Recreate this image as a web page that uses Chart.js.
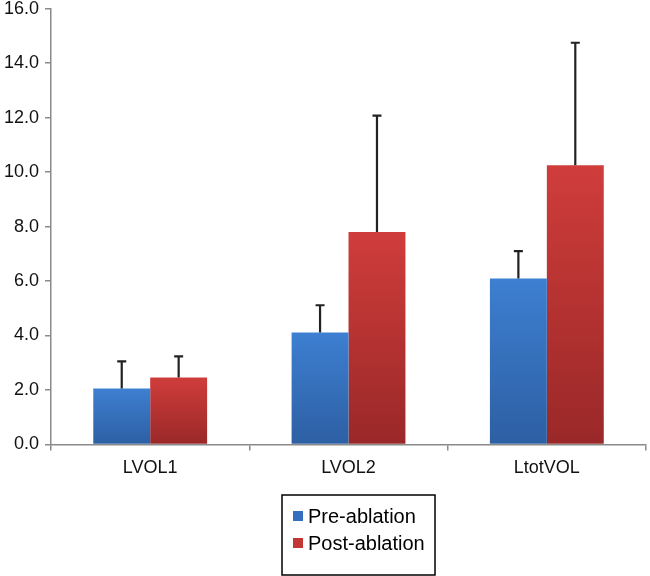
<!DOCTYPE html>
<html>
<head>
<meta charset="utf-8">
<title>Pre vs post ablation volumes</title>
<script src="https://cdn.jsdelivr.net/npm/chart.js@4/dist/chart.umd.min.js"></script>
<style>
  html, body { margin: 0; padding: 0; background: #fff; }
  #wrap { width: 650px; height: 576px; }
</style>
</head>
<body>
<div id="wrap"><canvas id="volChart" width="650" height="576"></canvas></div>
<script>
// values
const categories = ['LVOL1', 'LVOL2', 'LtotVOL'];
const preAblation = [2.05, 4.11, 6.09];
const preAblationSD = [1.0, 1.0, 1.01];
const postAblation = [2.46, 7.80, 10.25];
const postAblationSD = [0.77, 4.27, 4.5];

Chart.defaults.font.family = "'Liberation Sans', Arial, Helvetica, sans-serif";
Chart.defaults.color = '#111';

// vertical shade on each bar, lighter at the top
function barShade(top, bottom) {
  return function (context) {
    const chart = context.chart;
    const yScale = chart.scales.y;
    if (!yScale || context.parsed == null) return top;
    const yTop = yScale.getPixelForValue(context.parsed.y);
    const yBase = yScale.getPixelForValue(0);
    if (!isFinite(yTop) || !isFinite(yBase) || yTop === yBase) return top;
    const g = chart.ctx.createLinearGradient(0, yTop, 0, yBase);
    g.addColorStop(0, top);
    g.addColorStop(1, bottom);
    return g;
  };
}

// upper error whiskers, drawn through the y scale
const errorBars = {
  id: 'errorBars',
  afterDatasetsDraw(chart) {
    const ctx = chart.ctx;
    const yScale = chart.scales.y;
    chart.data.datasets.forEach((ds, i) => {
      const meta = chart.getDatasetMeta(i);
      if (!ds.errors || meta.hidden) return;
      meta.data.forEach((bar, j) => {
        const yEnd = yScale.getPixelForValue(ds.data[j] + ds.errors[j]);
        ctx.save();
        ctx.strokeStyle = '#222';
        ctx.lineWidth = 2.2;
        ctx.beginPath();
        ctx.moveTo(bar.x, bar.y);
        ctx.lineTo(bar.x, yEnd);
        ctx.moveTo(bar.x - 4.5, yEnd);
        ctx.lineTo(bar.x + 4.5, yEnd);
        ctx.stroke();
        ctx.restore();
      });
    });
  }
};

// boxed legend, entries stacked one per row
const boxLegend = {
  id: 'boxLegend',
  afterDraw(chart, args, opts) {
    const ctx = chart.ctx;
    ctx.save();
    ctx.strokeStyle = '#000';
    ctx.lineWidth = 1.5;
    ctx.strokeRect(opts.left, opts.top, opts.width, opts.height);
    ctx.font = "20px 'Liberation Sans', Arial, sans-serif";
    ctx.textBaseline = 'middle';
    chart.data.datasets.forEach((ds, i) => {
      const cy = opts.top + opts.firstRow + i * opts.rowGap;
      ctx.fillStyle = ds.swatch;
      ctx.fillRect(opts.left + 11, cy - 5, 10, 10);
      ctx.fillStyle = '#000';
      ctx.fillText(ds.label, opts.left + 26, cy + 1);
    });
    ctx.restore();
  }
};

new Chart(document.getElementById('volChart'), {
  type: 'bar',
  data: {
    labels: categories,
    datasets: [
      {
        label: 'Pre-ablation',
        data: preAblation,
        errors: preAblationSD,
        swatch: '#3570c0',
        backgroundColor: barShade('#3d7fd1', '#2d5fa3'),
        borderWidth: 0,
        categoryPercentage: 0.574,
        barPercentage: 1.0
      },
      {
        label: 'Post-ablation',
        data: postAblation,
        errors: postAblationSD,
        swatch: '#c23634',
        backgroundColor: barShade('#cf3d3b', '#9a2828'),
        borderWidth: 0,
        categoryPercentage: 0.574,
        barPercentage: 1.0
      }
    ]
  },
  options: {
    responsive: false,
    animation: false,
    layout: { padding: { left: -2, right: 4, top: 0, bottom: 90 } },
    plugins: {
      legend: { display: false },
      tooltip: { enabled: false },
      boxLegend: { left: 282, top: 495, width: 153, height: 80, firstRow: 21, rowGap: 27 }
    },
    scales: {
      x: {
        grid: { drawOnChartArea: false, tickLength: 6, color: '#8a8a8a', lineWidth: 1.5 },
        border: { color: '#8a8a8a', width: 1.5 },
        ticks: { font: { size: 18 }, color: '#111', padding: 7 }
      },
      y: {
        min: 0,
        max: 16,
        grid: { drawOnChartArea: false, tickLength: 6, color: '#8a8a8a', lineWidth: 1.5 },
        border: { color: '#8a8a8a', width: 1.5 },
        ticks: {
          stepSize: 2,
          font: { size: 18, lineHeight: 0.3 },
          color: '#111',
          padding: 6,
          callback: v => Number(v).toFixed(1)
        }
      }
    }
  },
  plugins: [errorBars, boxLegend]
});
</script>
</body>
</html>
